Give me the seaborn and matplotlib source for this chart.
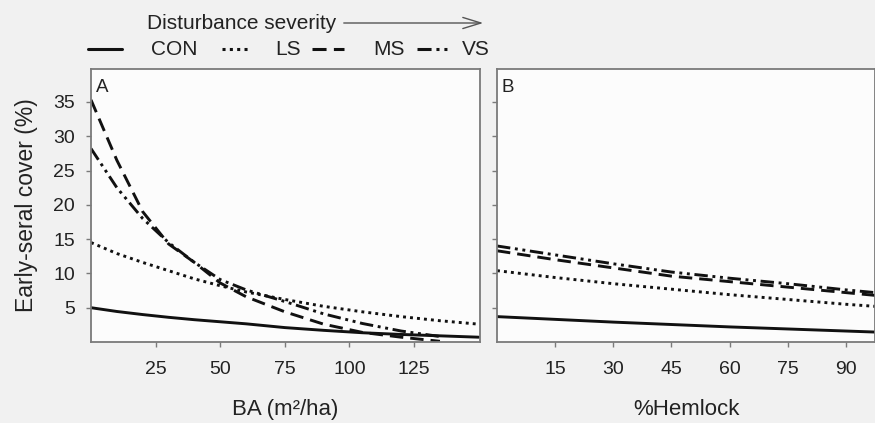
import numpy as np
import pandas as pd
import seaborn as sns
import matplotlib.pyplot as plt
from matplotlib.lines import Line2D
from matplotlib.patches import FancyArrowPatch

# ---------------- data ----------------
treatments = ["CON", "LS", "MS", "VS"]

ba_x = [0, 10, 20, 30, 40, 50, 60, 75, 90, 105, 120, 135, 150]
ba_con = [5.0, 4.45, 4.0, 3.6, 3.25, 2.95, 2.65, 2.1, 1.7, 1.35, 1.1, 0.9, 0.7]
ba_ls = [14.5, 12.9, 11.6, 10.4, 9.2, 8.2, 7.3, 6.2, 5.2, 4.4, 3.7, 3.1, 2.6]
ba_ms = [35.3, 26.5, 19.0, 14.3, 11.6, 8.6, 6.6, 4.4, 2.6, 1.4, 0.7, 0.1, np.nan]
ba_vs = [28.2, 22.5, 18.0, 14.5, 11.6, 9.1, 7.6, 5.9, 4.1, 2.7, 1.6, 0.8, np.nan]

hem_x = [0, 15, 30, 45, 60, 75, 90, 97.5]
hem_con = [3.7, 3.3, 2.9, 2.55, 2.2, 1.9, 1.6, 1.45]
hem_ls = [10.4, 9.4, 8.5, 7.7, 6.9, 6.2, 5.5, 5.2]
hem_ms = [13.3, 12.0, 10.8, 9.6, 8.8, 8.0, 7.2, 6.8]
hem_vs = [14.0, 12.7, 11.4, 10.2, 9.3, 8.5, 7.6, 7.2]

ba_ticks = [25, 50, 75, 100, 125]
hem_ticks = [15, 30, 45, 60, 75, 90]
y_ticks = [5, 10, 15, 20, 25, 30, 35]


def long_df(x, series):
    frames = []
    for name, vals in zip(treatments, series):
        frames.append(pd.DataFrame({"x": x, "y": vals, "trt": name}))
    return pd.concat(frames, ignore_index=True)


df_a = long_df(ba_x, [ba_con, ba_ls, ba_ms, ba_vs])
df_b = long_df(hem_x, [hem_con, hem_ls, hem_ms, hem_vs])

# ---------------- style ----------------
sns.set_style("ticks")
plt.rcParams["font.family"] = ["Liberation Sans", "DejaVu Sans"]

dash_map = {
    "CON": "",
    "LS": (1.0, 1.4),
    "MS": (4.6, 2.4),
    "VS": (4.6, 1.6, 1.0, 1.6, 1.0, 1.6),
}

W, H = 875, 423
fig = plt.figure(figsize=(W / 100, H / 100), dpi=100, facecolor="#f1f1f1")

ax_a = fig.add_axes([91 / W, 1 - 342 / H, (480 - 91) / W, (342 - 69) / H])
ax_b = fig.add_axes([497 / W, 1 - 342 / H, (875 - 497) / W, (342 - 69) / H])

spine_col = "#7a7a7a"
for ax, df, xlim, xticks, xlabel, tag in [
    (ax_a, df_a, (0, 150.5), ba_ticks, "BA (m\u00b2/ha)", "A"),
    (ax_b, df_b, (0, 97.5), hem_ticks, "%Hemlock", "B"),
]:
    ax.set_facecolor("#fcfcfc")
    sns.lineplot(data=df, x="x", y="y", style="trt", dashes=dash_map,
                 color="#111111", linewidth=2.1, legend=False, ax=ax,
                 sort=True)
    ax.set_xlim(*xlim)
    ax.set_ylim(0, 39.8)
    ax.set_xticks(xticks)
    ax.set_yticks(y_ticks)
    for s in ax.spines.values():
        s.set_color(spine_col)
        s.set_linewidth(1.3)
        s.set_visible(True)
    ax.tick_params(axis="both", direction="out", length=3.5, width=1.0,
                   color=spine_col, labelsize=14, labelcolor="#222222", pad=8)
    ax.tick_params(axis="x", pad=10.5)
    ax.set_xlabel(xlabel, fontsize=16, color="#222222")
    ax.xaxis.set_label_coords(0.5, -0.21)
    ax.set_ylabel("")
    ax.text(0.013, 0.965, tag, transform=ax.transAxes, ha="left", va="top",
            fontsize=13.5, color="#222222")

ax_b.tick_params(axis="y", labelleft=False)
ax_a.set_ylabel("Early-seral cover (%)", fontsize=16.5, color="#222222")
ax_a.yaxis.set_label_coords(-0.135, 0.5)

# ---------------- top legend ----------------
fig.text(147 / W, 1 - 29 / H, "Disturbance severity", fontsize=15,
         color="#222222", ha="left", va="baseline")
arrow = FancyArrowPatch((341, H - 23), (486, H - 23), transform=None,
                        arrowstyle="->,head_length=1.3,head_width=0.4",
                        mutation_scale=10, color="#555555", lw=1.0)
fig.add_artist(arrow)

row_y = 1 - 49 / H
handles = [
    ("CON", 88, 122, 151),
    ("LS", 222, 248, 275),
    ("MS", 312, 344, 373),
    ("VS", 417, 448, 462),
]
for name, x0, x1, xt in handles:
    ln = Line2D([x0 / W, x1 / W], [row_y, row_y], transform=fig.transFigure,
                color="#111111", linewidth=2.2)
    if dash_map[name] != "":
        ln.set_dashes(dash_map[name])
    fig.add_artist(ln)
    fig.text(xt / W, row_y, name, fontsize=15, color="#222222",
             ha="left", va="center")

fig.savefig("out.png", dpi=100, facecolor=fig.get_facecolor())
